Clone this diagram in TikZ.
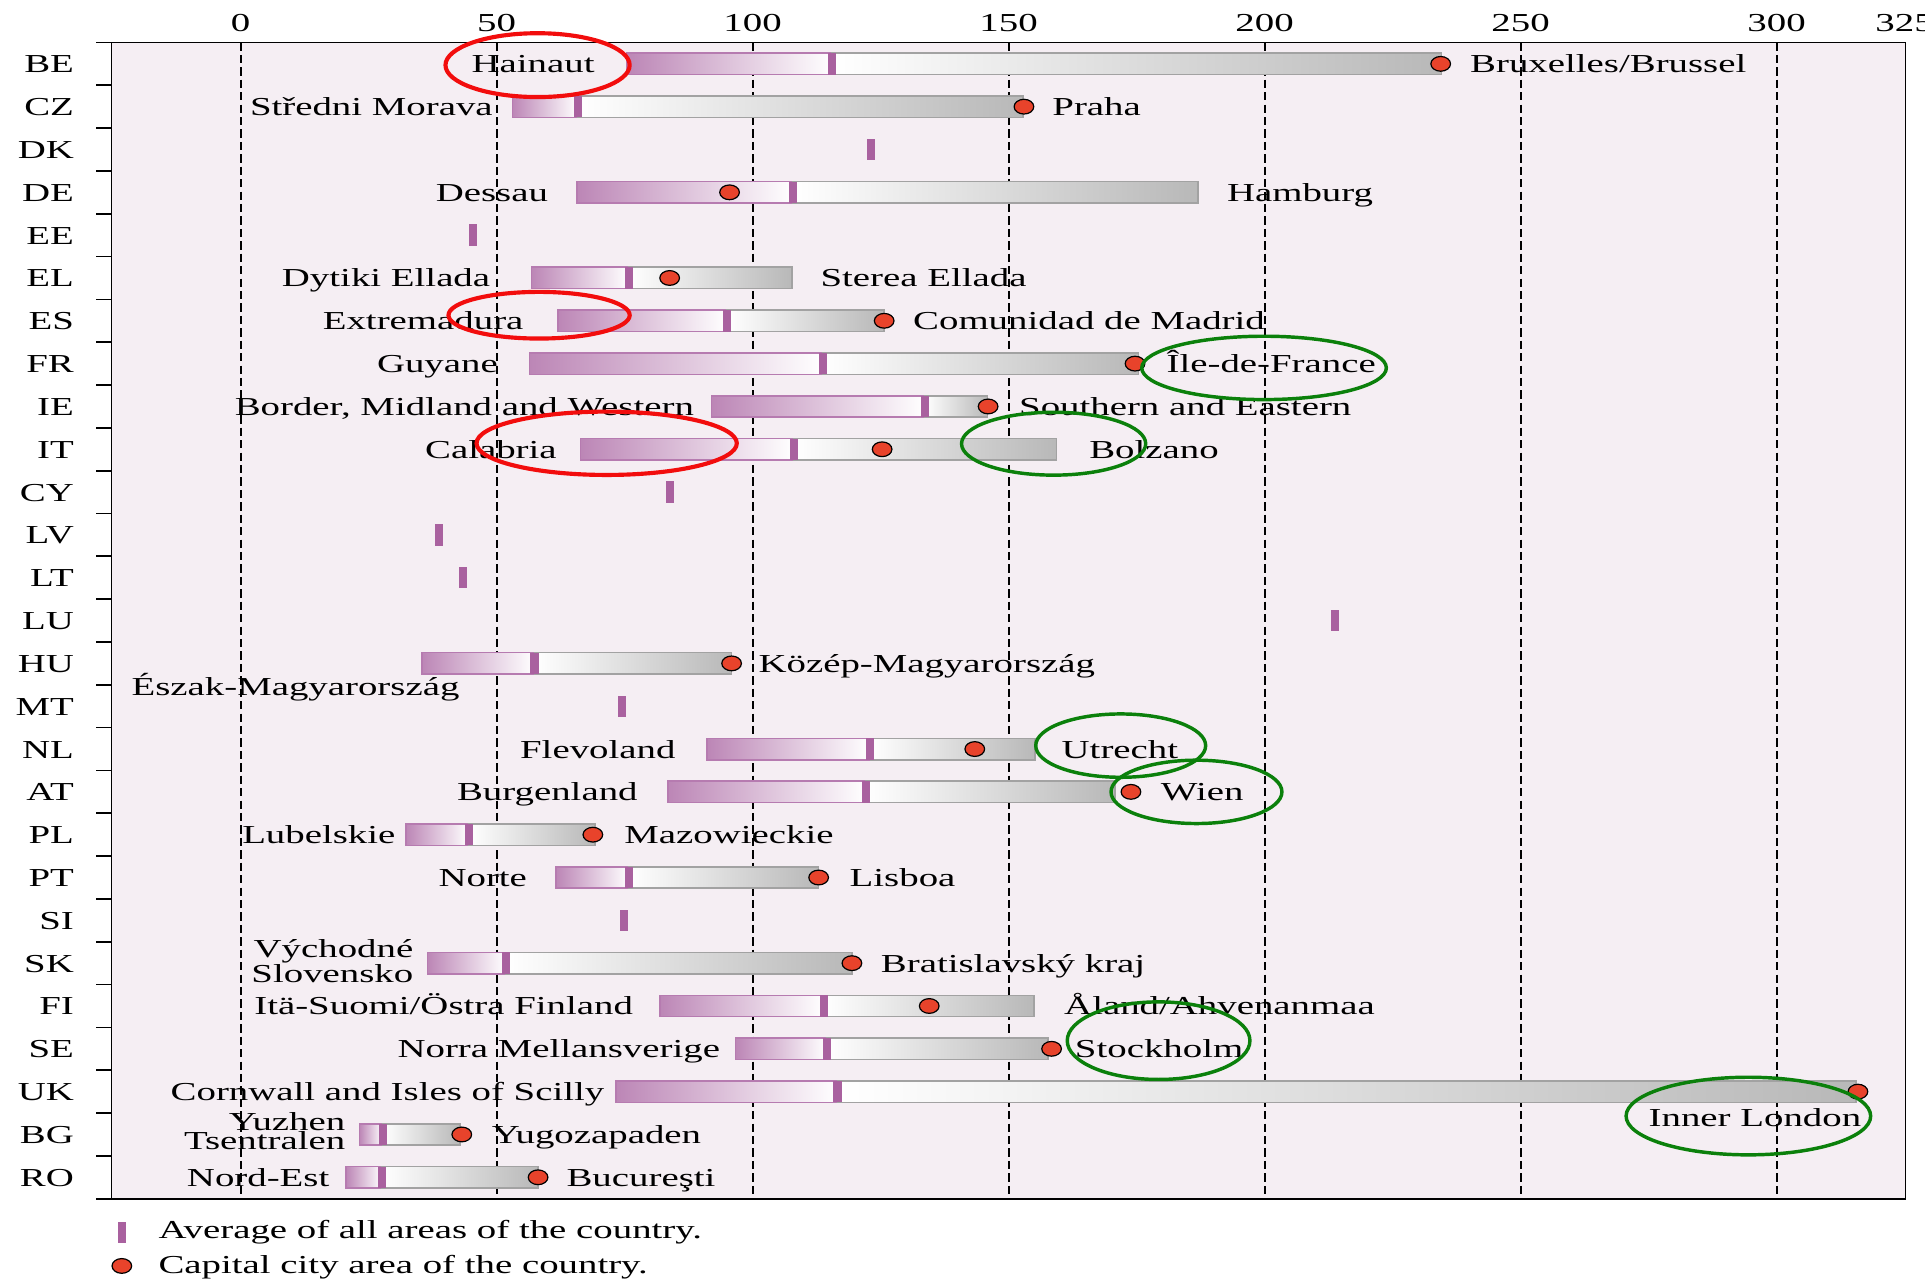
\documentclass[tikz,border=0pt]{standalone}
\usepackage{fontspec}
\setmainfont{Liberation Serif}[FakeStretch=1.5]
\usetikzlibrary{shapes.geometric}
\definecolor{panelbg}{HTML}{F5EEF3}
\definecolor{avgpurple}{HTML}{A9619F}
\definecolor{barpurple}{HTML}{BC86B6}
\definecolor{barframe}{HTML}{B67BB0}
\definecolor{bargrey}{HTML}{B8B8B8}
\definecolor{greyframe}{HTML}{A2A2A2}
\definecolor{capred}{HTML}{E8432B}
\definecolor{ringred}{HTML}{F20D0D}
\definecolor{ringgreen}{HTML}{0B800B}
\begin{document}
\begin{tikzpicture}[x=0.10425cm, y=-0.872cm, line width=1pt,
  every node/.style={font=\fontsize{15}{15}\selectfont, inner sep=0pt},
  lowbar/.style={left color=barpurple, right color=white, draw=barframe, line width=0.9pt},
  highbar/.style={left color=white, right color=bargrey, draw=greyframe, line width=0.9pt},
  capdot/.style={ellipse, draw=black, fill=capred, line width=0.7pt, minimum width=0.4cm, minimum height=0.3cm},
  gridline/.style={dash pattern=on 4.8pt off 2.4pt, line width=1.1pt},
  redring/.style={draw=ringred, line width=2.4pt},
  greenring/.style={draw=ringgreen, line width=2pt}]
  \useasboundingbox (-47.0,-1.491) rectangle (329.0,28.41);
  % panel, grid and axis
  \fill[panelbg] (-25.2,-0.5) rectangle (325.2,26.5);
  \foreach \v in {0,50,...,300} {
    \draw[gridline] (\v,-0.5) -- (\v,26.5);
    \node[anchor=base] (tick-\v) at (\v,-0.75) {\v};
  }
  \node[anchor=base] (tick-325) at (325,-0.75) {325};
  \foreach \t in {-0.5,0.5,...,26.5} \draw (-28.2,\t) -- (-25.2,\t);
  \draw (-25.2,-0.5) rectangle (325.2,26.5);
  \foreach \c [count=\i from 0] in {BE,CZ,DK,DE,EE,EL,ES,FR,IE,IT,CY,LV,LT,LU,HU,MT,NL,AT,PL,PT,SI,SK,FI,SE,UK,BG,RO}
    \node[anchor=base east] (code-\c) at (-32.4,\i+0.21) {\c};
  % ranges: row / lowest / average / highest
  \foreach \r/\lo/\av/\hi in {0/75.5/115.5/234.6, 1/53.1/65.9/152.8, 3/65.7/107.9/187.0, 5/56.8/75.8/107.7,
      6/62.0/95.0/125.7, 7/56.4/113.7/175.4, 8/92.0/133.6/145.9, 9/66.4/108.1/159.4, 14/35.4/57.4/95.9,
      16/91.1/123.0/155.2, 17/83.5/122.1/170.8, 18/32.3/44.6/69.2, 19/61.6/75.9/112.9, 21/36.5/51.8/119.4,
      22/81.9/113.9/155.0, 23/96.7/114.5/157.7, 24/73.3/116.6/315.5, 25/23.2/27.8/42.8, 26/20.6/27.6/58.1} {
    \shadedraw[lowbar] (\lo,\r-0.25) rectangle (\av,\r+0.25);
    \shadedraw[highbar] (\av,\r-0.25) rectangle (\hi,\r+0.25);
  }
  \foreach \r/\av in {0/115.5, 1/65.9, 2/123.2, 3/107.9, 4/45.4, 5/75.8, 6/95.0, 7/113.7, 8/133.6, 9/108.1,
      10/83.8, 11/38.7, 12/43.5, 13/213.7, 14/57.4, 15/74.5, 16/123.0, 17/122.1, 18/44.6, 19/75.9, 20/74.9,
      21/51.8, 22/113.9, 23/114.5, 24/116.6, 25/27.8, 26/27.6}
    \fill[avgpurple] (\av-0.8,\r-0.25) rectangle (\av+0.8,\r+0.25);
  \foreach \c/\r/\x in {BE/0/234.4, CZ/1/153.0, DE/3/95.5, EL/5/83.8, ES/6/125.7, FR/7/174.7, IE/8/146.0,
      IT/9/125.3, HU/14/95.9, NL/16/143.4, AT/17/173.9, PL/18/68.8, PT/19/112.9, SK/21/119.4, FI/22/134.5,
      SE/23/158.4, UK/24/315.9, BG/25/43.2, RO/26/58.1}
    \node[capdot] (cap-\c) at (\x,\r) {};
  % region names
  \node[anchor=base east] (low-BE) at (69.3,0.21) {Hainaut};
  \node[anchor=base west] (high-BE) at (240.0,0.21) {Bruxelles/Brussel};
  \node[anchor=base east] (low-CZ) at (49.4,1.21) {Středni Morava};
  \node[anchor=base west] (high-CZ) at (158.4,1.21) {Praha};
  \node[anchor=base east] (low-DE) at (60.2,3.21) {Dessau};
  \node[anchor=base west] (high-DE) at (192.5,3.21) {Hamburg};
  \node[anchor=base east] (low-EL) at (48.9,5.21) {Dytiki Ellada};
  \node[anchor=base west] (high-EL) at (113.1,5.21) {Sterea Ellada};
  \node[anchor=base east] (low-ES) at (55.4,6.21) {Extremadura};
  \node[anchor=base west] (high-ES) at (131.2,6.21) {Comunidad de Madrid};
  \node[anchor=base east] (low-FR) at (50.4,7.21) {Guyane};
  \node[anchor=base west] (high-FR) at (180.7,7.21) {Île-de-France};
  \node[anchor=base east] (low-IE) at (88.7,8.21) {Border, Midland and Western};
  \node[anchor=base west] (high-IE) at (151.9,8.21) {Southern and Eastern};
  \node[anchor=base east] (low-IT) at (61.9,9.21) {Calabria};
  \node[anchor=base west] (high-IT) at (165.6,9.21) {Bolzano};
  \node[anchor=base east] (low-HU) at (42.9,14.74) {Észak-Magyarország};
  \node[anchor=base west] (high-HU) at (101.0,14.21) {Közép-Magyarország};
  \node[anchor=base east] (low-NL) at (85.1,16.21) {Flevoland};
  \node[anchor=base west] (high-NL) at (160.2,16.21) {Utrecht};
  \node[anchor=base east] (low-AT) at (77.7,17.21) {Burgenland};
  \node[anchor=base west] (high-AT) at (179.6,17.21) {Wien};
  \node[anchor=base east] (low-PL) at (30.4,18.21) {Lubelskie};
  \node[anchor=base west] (high-PL) at (74.8,18.21) {Mazowieckie};
  \node[anchor=base east] (low-PT) at (56.1,19.21) {Norte};
  \node[anchor=base west] (high-PT) at (118.8,19.21) {Lisboa};
  \node[anchor=east, align=right, font=\fontsize{15}{12.5}\selectfont] (low-SK) at (33.9,20.96) {Východné\\Slovensko};
  \node[anchor=base west] (high-SK) at (124.9,21.21) {Bratislavský kraj};
  \node[anchor=base east] (low-FI) at (76.8,22.21) {Itä-Suomi/Östra Finland};
  \node[anchor=base west] (high-FI) at (160.7,22.21) {Åland/Ahvenanmaa};
  \node[anchor=base east] (low-SE) at (93.8,23.21) {Norra Mellansverige};
  \node[anchor=base west] (high-SE) at (162.8,23.21) {Stockholm};
  \node[anchor=base east] (low-UK) at (71.2,24.21) {Cornwall and Isles of Scilly};
  \node[anchor=base east] (high-UK) at (316.7,24.82) {Inner London};
  \node[anchor=east, align=right, font=\fontsize{15}{10.6}\selectfont] (low-BG) at (20.6,24.92) {Yuzhen\\Tsentralen};
  \node[anchor=base west] (high-BG) at (48.9,25.21) {Yugozapaden};
  \node[anchor=base east] (low-RO) at (17.5,26.21) {Nord-Est};
  \node[anchor=base west] (high-RO) at (63.5,26.21) {Bucureşti};
  % legend
  \fill[avgpurple] (-24.0,27.04) rectangle (-22.4,27.54);
  \node[capdot] (key-cap) at (-23.2,28.07) {};
  \node[anchor=base west] (key-avg-text) at (-16.2,27.42) {Average of all areas of the country.};
  \node[anchor=base west] (key-cap-text) at (-16.2,28.24) {Capital city area of the country.};
  % marked regions
  \draw[redring] (58.0,0.03) ellipse [x radius=1.875cm, y radius=0.65cm];
  \draw[redring] (58.3,5.87) ellipse [x radius=1.845cm, y radius=0.475cm];
  \draw[redring] (71.5,8.86) ellipse [x radius=2.65cm, y radius=0.645cm];
  \draw[greenring] (199.9,7.10) ellipse [x radius=2.49cm, y radius=0.645cm];
  \draw[greenring] (158.8,8.87) ellipse [x radius=1.875cm, y radius=0.64cm];
  \draw[greenring] (171.9,15.92) ellipse [x radius=1.73cm, y radius=0.645cm];
  \draw[greenring] (186.7,17.0) ellipse [x radius=1.74cm, y radius=0.645cm];
  \draw[greenring] (179.3,22.81) ellipse [x radius=1.86cm, y radius=0.79cm];
  \draw[greenring] (294.5,24.57) ellipse [x radius=2.49cm, y radius=0.79cm];
\end{tikzpicture}
\end{document}
